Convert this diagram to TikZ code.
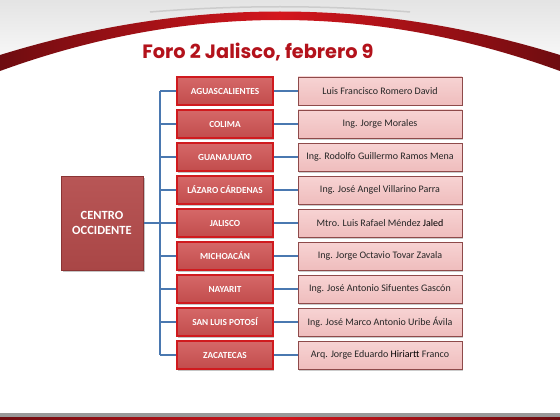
\documentclass[tikz,border=0pt]{standalone}
\usepackage{fontspec}
\setmainfont{Carlito}
\newfontfamily\titlefont{Poppins}
\usetikzlibrary{shadows}
\definecolor{titlered}{HTML}{B3121B}
\definecolor{stateborder}{HTML}{D01A1E}
\definecolor{statetop}{HTML}{D56868}
\definecolor{statebot}{HTML}{C24C4C}
\definecolor{nameborder}{HTML}{8E4A4A}
\definecolor{nametop}{HTML}{F7D3D3}
\definecolor{namebot}{HTML}{EFBDBD}
\definecolor{centertop}{HTML}{B85656}
\definecolor{centerbot}{HTML}{A94646}
\definecolor{centerborder}{HTML}{8A3434}
\definecolor{connblue}{HTML}{4A78B0}
\definecolor{arcdark}{HTML}{6E0C10}
\definecolor{arcred}{HTML}{D4161D}
\begin{document}
\begin{tikzpicture}[x=1pt,y=-1pt,
  statebox/.style={draw=stateborder, line width=1.1pt, top color=statetop, bottom color=statebot,
    minimum width=96pt, minimum height=28pt, inner sep=0pt, text=white,
    font=\fontsize{9.3}{11}\selectfont\bfseries,
    drop shadow={shadow xshift=1.2pt, shadow yshift=-1.5pt, opacity=0.45}},
  namebox/.style={draw=nameborder, line width=0.8pt, top color=nametop, bottom color=namebot,
    minimum width=164pt, minimum height=28pt, inner sep=0pt, text=black!85,
    font=\fontsize{10}{12}\selectfont,
    drop shadow={shadow xshift=1.2pt, shadow yshift=-1.5pt, opacity=0.4}},
  centerbox/.style={draw=centerborder, line width=1pt, top color=centertop, bottom color=centerbot,
    minimum width=82pt, minimum height=94pt, inner sep=0pt, text=white, align=center,
    font=\fontsize{12.5}{15}\selectfont\bfseries,
    drop shadow={shadow xshift=1.5pt, shadow yshift=-2pt, opacity=0.45}},
  conn/.style={draw=connblue, line width=1.3pt}
]
\useasboundingbox (0,0) rectangle (560,420);
\fill[white] (0,0) rectangle (560,420);
% top decoration
\shade[top color=black!11, bottom color=black!3] (0,0) -- (560,0) -- (560,58) .. controls (373,-2) and (187,-2) .. (0,58) -- cycle;
\draw[black!20, line width=1.5pt] (150,12) .. controls (235,5) and (325,5) .. (410,12);
\shade[left color=arcdark, right color=arcdark, middle color=arcred]
  (0,55) .. controls (187,-3) and (373,-3) .. (560,55)
  -- (560,71) .. controls (373,3) and (187,3) .. (0,71) -- cycle;
% bottom band
\fill[black!40] (0,413) rectangle (560,417.5);
\shade[left color=arcdark, right color=arcdark, middle color=arcred] (0,417.5) rectangle (560,420);
% title
\node[font=\titlefont\fontsize{19.3}{23}\selectfont\bfseries, text=titlered] (title) at (258,52) {Foro 2 Jalisco, febrero 9};
% center box
\node[centerbox] (c) at (102,223) {CENTRO\\OCCIDENTE};
% bus
\coordinate (bt) at (160,91);
\coordinate (bb) at (160,355);
\draw[conn] (bt) -- (bb);
\draw[conn] (c.east) -- (c.east -| bt);
% states and names
\foreach \i/\s/\n in {
  0/AGUASCALIENTES/Luis Francisco Romero David,
  1/COLIMA/Ing. Jorge Morales,
  2/GUANAJUATO/Ing. Rodolfo Guillermo Ramos Mena,
  3/LÁZARO CÁRDENAS/Ing. José Angel Villarino Parra,
  4/JALISCO/{Mtro. Luis Rafael Méndez \textcolor{black}{Jaled}},
  5/MICHOACÁN/Ing. Jorge Octavio Tovar Zavala,
  6/NAYARIT/Ing. José Antonio Sifuentes Gascón,
  7/SAN LUIS POTOSÍ/Ing. José Marco Antonio Uribe Ávila,
  8/ZACATECAS/{Arq. Jorge Eduardo \textcolor{black}{Hiriartt} Franco}}{
  \node[statebox] (s\i) at (225,{91+33*\i}) {\s};
  \node[namebox] (n\i) at (380,{91+33*\i}) {\n};
  \draw[conn] (s\i.west) -- (s\i.west -| bt);
  \draw[conn] (s\i.east) -- (n\i.west);
}
\end{tikzpicture}
\end{document}
